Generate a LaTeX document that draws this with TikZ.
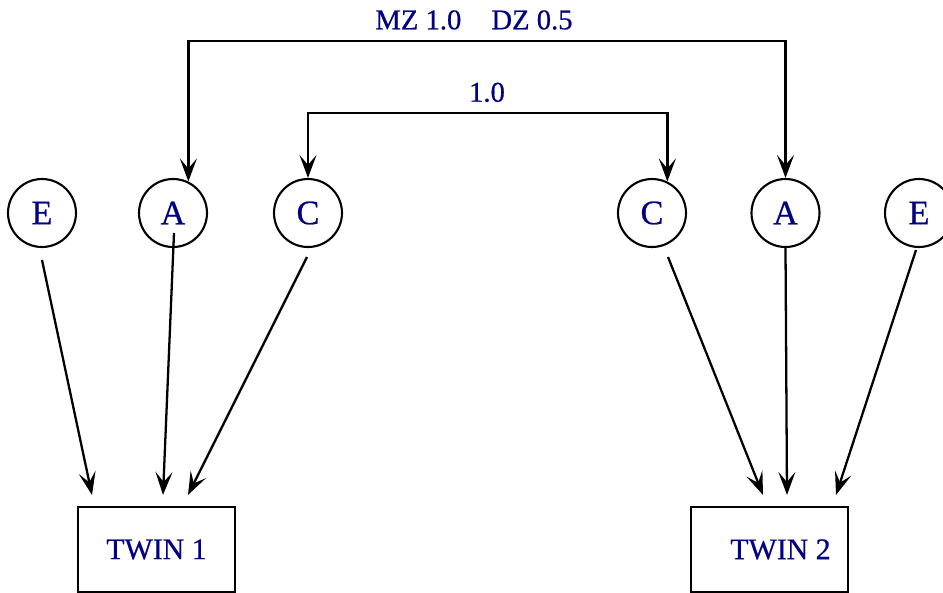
\documentclass[tikz,border=0pt]{standalone}
\usepackage{fontspec}
\setmainfont{Liberation Serif}
\newfontfamily\diagfont[FakeBold=0.6]{Liberation Serif}
\usetikzlibrary{arrows.meta,calc}
\definecolor{Navy}{HTML}{000080}
\tikzset{
    every node/.style={text=Navy},
    factor/.style={
        draw=black, circle, line width=1.2pt,
        minimum size=1.36cm, inner sep=0pt,
        font=\diagfont\fontsize{19.5}{21}\selectfont
    },
    twinbox/.style={
        draw=black, rectangle, line width=1.2pt,
        minimum width=3.14cm, minimum height=1.7cm, inner sep=0pt,
        font=\diagfont\fontsize{17}{19}\selectfont
    },
    pathlabel/.style={
        font=\diagfont\fontsize{16.3}{18}\selectfont, anchor=base
    },
    link/.style={
        -{Stealth[length=0.46cm, width=0.34cm, inset=0.2cm]}, line width=1.3pt
    },
    corr/.style={
        {Stealth[length=0.46cm, width=0.34cm, inset=0.2cm]}-{Stealth[length=0.46cm, width=0.34cm, inset=0.2cm]},
        line width=1.3pt
    },
}

\begin{document}
\begin{tikzpicture}[x=0.02cm, y=-0.02cm]
    \useasboundingbox (0,0) rectangle (943,592);
    \clip (0,0) rectangle (943,592);

    % Twin 1 factors
    \node[factor] (e1) at (42,213) {E};
    \node[factor] (a1) at (173,213) {A};
    \node[factor] (c1) at (308,213) {C};

    % Twin 2 factors
    \node[factor] (c2) at (652,213) {C};
    \node[factor] (a2) at (785.5,213) {A};
    \node[factor] (e2) at (919,213) {E};

    % Observed twins
    \node[twinbox] (t1) at (156.5,549.5) {TWIN 1};
    \node[twinbox] (t2) at (769.5,549.5) {\hspace*{0.44cm}TWIN 2};

    % Correlations between the twins
    \draw[corr] (a1.64) -- (a1.64 |- 0,41) -| (a2.north);
    \node[pathlabel] (mzdz) at (474,29.3) {MZ 1.0\hspace{0.8em} DZ 0.5};
    \draw[corr] (c1.north) -- (c1.north |- 0,113) -| (c2.64);
    \node[pathlabel] (cval) at (487,101.7) {1.0};

    % Paths into twin 1
    \draw[link] ($(e1.center)+(0,47)$) -- ($(t1.north)+(-64.5,-11)$);
    \draw[link] ($(a1.center)+(1,20)$) -- ($(t1.north)+(6.5,-11)$);
    \draw[link] ($(c1.center)+(-1,44)$) -- ($(t1.north)+(31.5,-11)$);

    % Paths into twin 2
    \draw[link] ($(c2.center)+(16,44)$) -- ($(t2.north)+(-6.5,-11)$);
    \draw[link] (a2.south) -- ($(t2.north)+(17.5,-11)$);
    \draw[link] ($(e2.center)+(-3,37)$) -- ($(t2.north)+(66.5,-11)$);
\end{tikzpicture}
\end{document}
